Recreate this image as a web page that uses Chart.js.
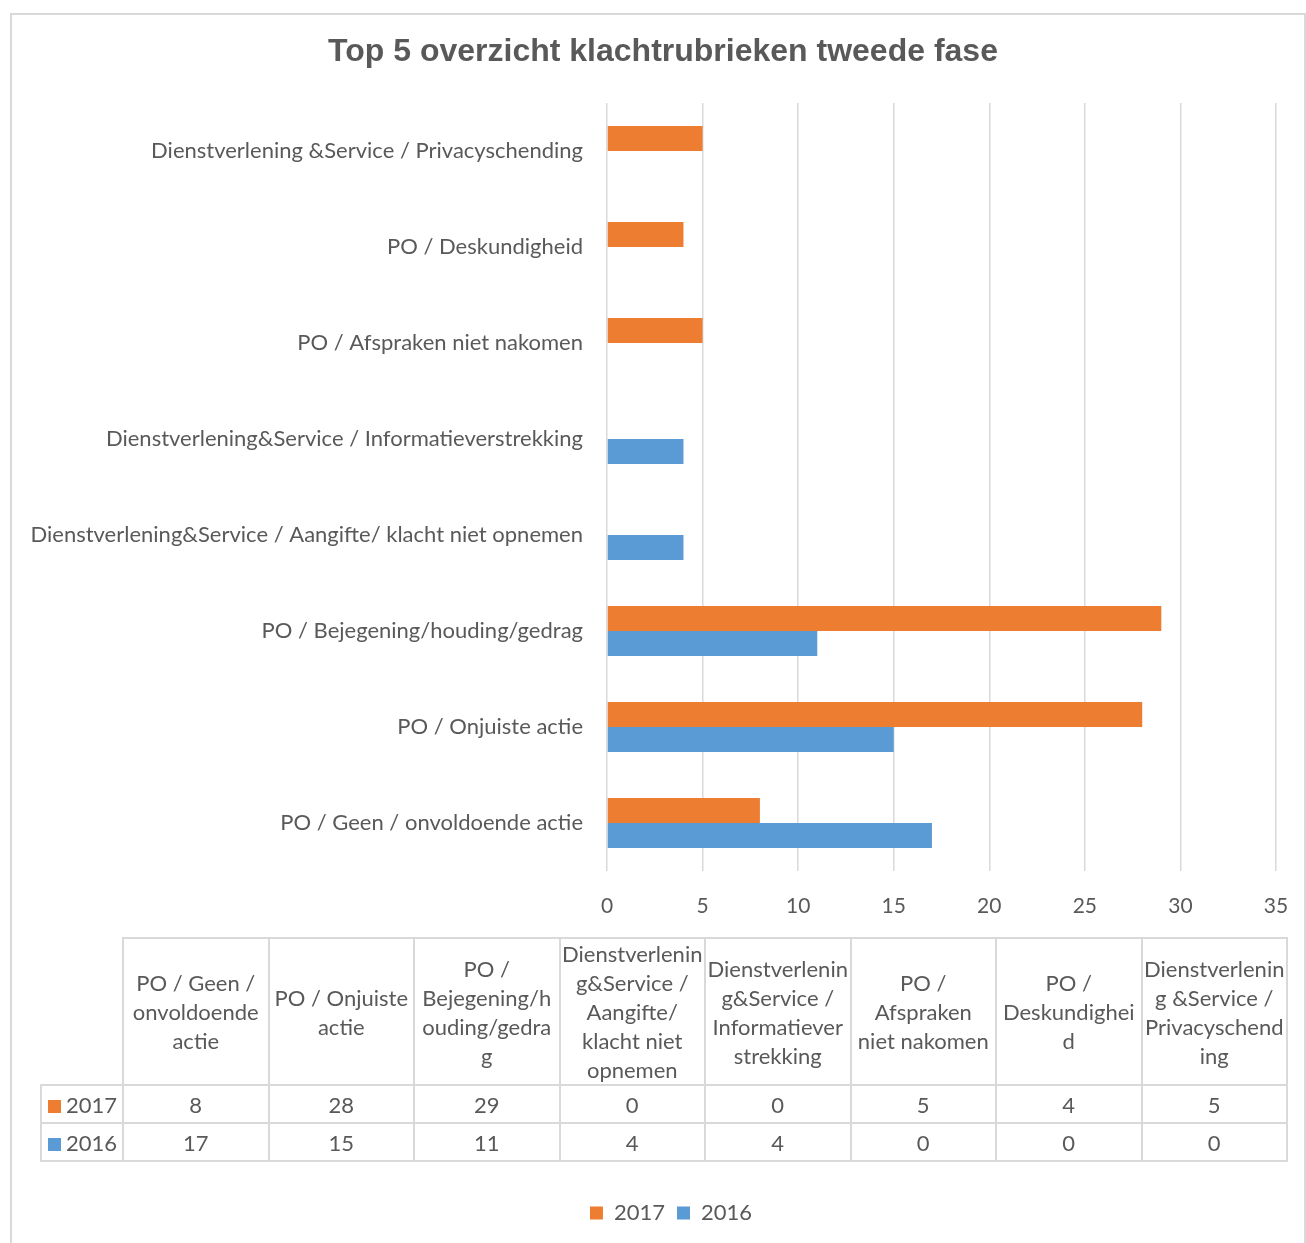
<!DOCTYPE html>
<html>
<head>
<meta charset="utf-8">
<script src="https://cdn.jsdelivr.net/npm/chart.js@4.4.1/dist/chart.umd.min.js"></script>
<style>
  body { margin: 0; background: #fff; width: 1306px; height: 1243px; overflow: hidden; position: relative; color: #595959; font-family: Lato, sans-serif; }
  .frame { position: absolute; left: 10px; top: 13px; width: 1292px; height: 1260px; border: 2px solid #d9d9d9; border-bottom: none; }
  .wrap { position: absolute; left: 10px; top: 13px; width: 1296px; height: 1230px; }
  table.data { position: absolute; left: 40px; top: 937px; border-collapse: collapse; table-layout: fixed; width: 1248px; font-size: 22px; }
  table.data td { border: 2px solid #d9d9d9; text-align: center; vertical-align: middle; padding: 0; line-height: 29px; white-space: pre; }
  table.data tr.head td { height: 141px; }
  table.data tr.val td { height: 36px; }
  table.data td.blank { border-top: none; border-left: none; }
  table.data td.series { text-align: left; padding-left: 6px; }
  .sw { display: inline-block; width: 13px; height: 13px; margin-right: 5px; vertical-align: 0px; }
</style>
</head>
<body>
<div class="frame"></div>
<div class="wrap"><canvas id="chart" width="1296" height="1230"></canvas></div>
<table class="data" id="table"></table>
<script>
// categories in table order (bottom of chart first)
const categories = [
  'PO / Geen / onvoldoende actie',
  'PO / Onjuiste actie',
  'PO / Bejegening/houding/gedrag',
  'Dienstverlening&Service / Aangifte/ klacht niet opnemen',
  'Dienstverlening&Service / Informatieverstrekking',
  'PO / Afspraken niet nakomen',
  'PO / Deskundigheid',
  'Dienstverlening &Service / Privacyschending',
];
// same categories as wrapped in the data table
const tableHeaders = [
  'PO / Geen /\nonvoldoende\nactie',
  'PO / Onjuiste\nactie',
  'PO /\nBejegening/h\nouding/gedra\ng',
  'Dienstverlenin\ng&Service /\nAangifte/\nklacht niet\nopnemen',
  'Dienstverlenin\ng&Service /\nInformatiever\nstrekking',
  'PO /\nAfspraken\nniet nakomen',
  'PO /\nDeskundighei\nd',
  'Dienstverlenin\ng &Service /\nPrivacyschend\ning',
];
const values2017 = [8, 28, 29, 0, 0, 5, 4, 5];
const values2016 = [17, 15, 11, 4, 4, 0, 0, 0];
const xMin = 0;
const xMax = 35;
const xStep = 5;

const ORANGE = '#ED7D31';
const BLUE = '#5B9BD5';
const TEXT = '#595959';
const labelFont = { family: 'Lato', size: 22 };

const series = [
  { label: '2017', values: values2017, color: ORANGE },
  { label: '2016', values: values2016, color: BLUE },
];

// keep title and legend centred on the frame, not on the padded box
const centerBlocks = {
  id: 'centerBlocks',
  afterLayout(chart) {
    [[chart.titleBlock, 653], [chart.legend, 661]].forEach(([box, target]) => {
      if (!box) return;
      const shift = target - (box.left + box.right) / 2;
      box.left += shift;
      box.right += shift;
    });
  },
};

new Chart(document.getElementById('chart'), {
  type: 'bar',
  data: {
    labels: categories.slice().reverse(),
    datasets: series.map(s => ({
      label: s.label,
      data: s.values.slice().reverse(),
      backgroundColor: s.color,
      borderWidth: 0,
    })),
  },
  options: {
    indexAxis: 'y',
    responsive: false,
    animation: false,
    categoryPercentage: 0.52,
    barPercentage: 1,
    layout: { padding: { left: 10, right: 30, top: 0, bottom: 9 } },
    plugins: {
      title: {
        display: true,
        text: 'Top 5 overzicht klachtrubrieken tweede fase',
        color: TEXT,
        font: { family: 'Liberation Sans', size: 32, weight: 'bold', lineHeight: 1.2 },
        padding: { top: 20, bottom: 31.6 },
      },
      legend: {
        position: 'bottom',
        labels: { color: TEXT, font: labelFont, boxWidth: 13, boxHeight: 13, padding: 12 },
      },
      tooltip: { enabled: false },
    },
    scales: {
      x: {
        min: xMin,
        max: xMax,
        ticks: { stepSize: xStep, color: TEXT, font: { family: 'Lato', size: 21 }, padding: 23 },
        grid: { color: '#d9d9d9', lineWidth: 1.5, drawTicks: false },
        border: { display: false },
        afterFit(scale) {
          scale.height = 319;
          scale.paddingLeft = 0;
          scale.paddingRight = 0;
        },
      },
      y: {
        ticks: { color: TEXT, font: labelFont, padding: 16 },
        grid: { display: false },
        border: { display: false },
        afterFit(scale) { scale.width = 587; },
      },
    },
  },
  plugins: [centerBlocks],
});

// data table under the chart
const $table = document.getElementById('table');
const colgroup = '<colgroup><col style="width:82px">' + categories.map(() => '<col>').join('') + '</colgroup>';
const head = '<tr class="head"><td class="blank"></td>' + tableHeaders.map(h => `<td>${h}</td>`).join('') + '</tr>';
const rows = series
  .map(s => `<tr class="val"><td class="series"><span class="sw" style="background:${s.color}"></span>${s.label}</td>` +
    s.values.map(v => `<td>${v}</td>`).join('') + '</tr>')
  .join('');
$table.innerHTML = colgroup + head + rows;
</script>
</body>
</html>
